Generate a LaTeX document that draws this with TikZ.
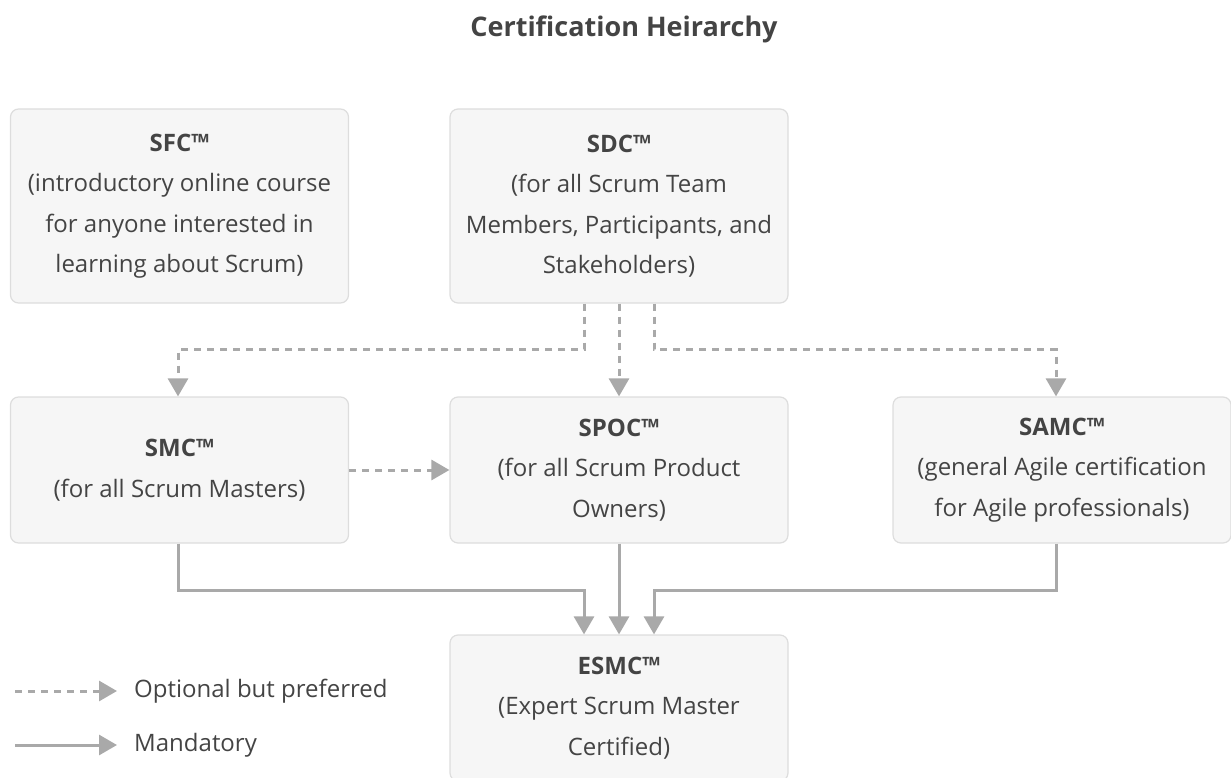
\documentclass[tikz,border=0pt]{standalone}
\usepackage{fontspec}
\setmainfont{Open Sans}
\usetikzlibrary{arrows.meta}
\definecolor{txt}{HTML}{444444}
\definecolor{ln}{HTML}{A9A9A9}
\definecolor{boxfill}{HTML}{F6F6F6}
\definecolor{boxdraw}{HTML}{DDDDDD}
\begin{document}
\begin{tikzpicture}[x=1pt,y=-1pt,
  box/.style={draw=boxdraw, fill=boxfill, rounded corners=8pt, line width=1.2pt,
    minimum width=338pt, minimum height=146pt, align=center, text=txt,
    font=\fontsize{24}{40.5}\selectfont, inner sep=0pt},
  tall/.style={minimum height=194pt},
  legend/.style={text=txt, font=\fontsize{24}{40}\selectfont, inner sep=0pt, anchor=west},
  opt/.style={draw=ln, line width=3pt, dash pattern=on 7pt off 6pt, -{Triangle[width=20pt,length=18pt]}},
  man/.style={draw=ln, line width=3pt, -{Triangle[width=20pt,length=18pt]}}]
\useasboundingbox (0,0) rectangle (1231,778);
\node[text=txt, font=\bfseries\fontsize{27}{30}\selectfont] (title) at (624,29) {Certification Heirarchy};
\node[box,tall] (sfc) at (179.5,206) {\textbf{SFC™}\\(introductory online course\\for anyone interested in\\learning about Scrum)};
\node[box,tall] (sdc) at (619,206) {\textbf{SDC™}\\(for all Scrum Team\\Members, Participants, and\\Stakeholders)};
\node[box] (smc) at (179.5,470) {\textbf{SMC™}\\(for all Scrum Masters)};
\node[box] (spoc) at (619,470) {\textbf{SPOC™}\\(for all Scrum Product\\Owners)};
\node[box] (samc) at (1062,470) {\textbf{SAMC™}\\(general Agile certification\\for Agile professionals)};
\node[box] (esmc) at (619,708) {\textbf{ESMC™}\\(Expert Scrum Master\\Certified)};
\draw[opt] ([xshift=-35pt]sdc.south) -- ++(0,46) -| ([xshift=-1.5pt]smc.north);
\draw[opt] (sdc.south) -- (spoc.north);
\draw[opt] ([xshift=35pt]sdc.south) -- ++(0,46) -| ([xshift=-6pt]samc.north);
\draw[opt] (smc.east) -- (spoc.west);
\draw[man] ([xshift=-1.5pt]smc.south) -- ++(0,47) -| ([xshift=-35pt]esmc.north);
\draw[man] (spoc.south) -- (esmc.north);
\draw[man] ([xshift=-6pt]samc.south) -- ++(0,47) -| ([xshift=35pt]esmc.north);
\node[legend] (l1) at (134,691) {Optional but preferred};
\node[legend] (l2) at (134,745) {Mandatory};
\coordinate (l1s) at (15,691);
\coordinate (l2s) at (15,745);
\draw[opt] (l1s) -- ([xshift=-17pt]l1.west);
\draw[man] (l2s) -- ([xshift=-17pt]l2.west);
\end{tikzpicture}
\end{document}
